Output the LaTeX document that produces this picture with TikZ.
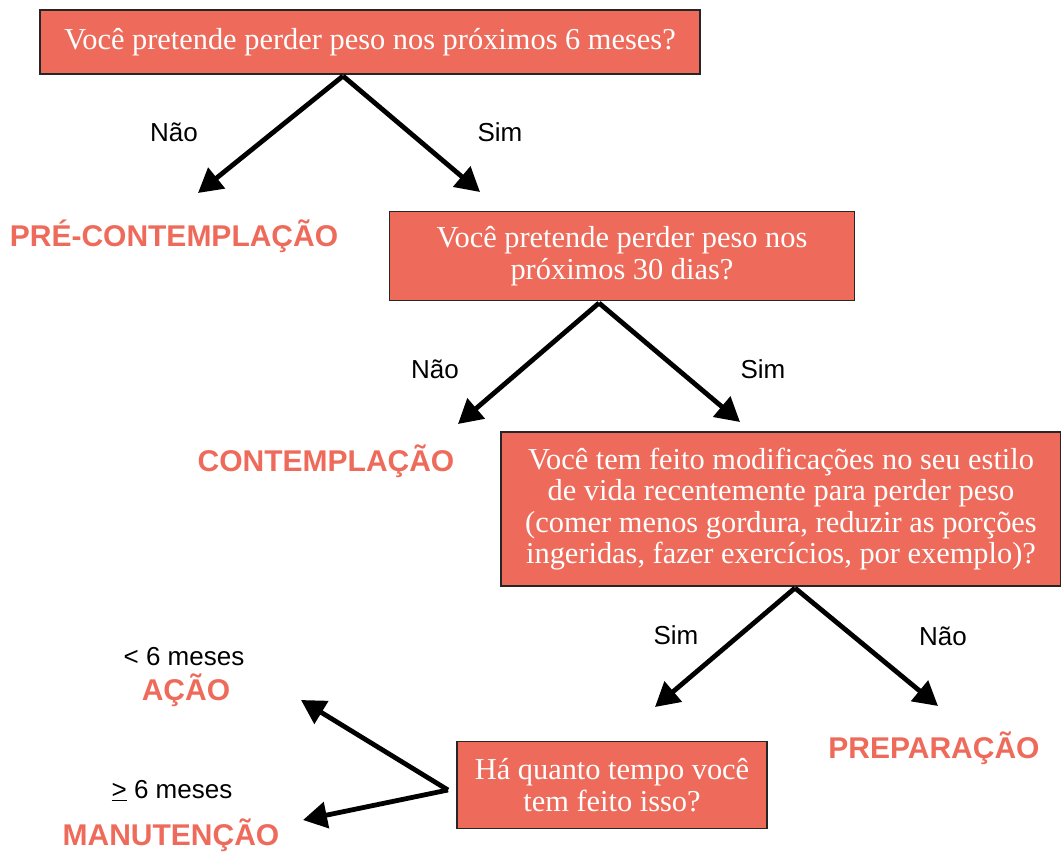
\documentclass[tikz,border=0pt]{standalone}
\usepackage{fontspec}
\setmainfont{Liberation Serif}
\setsansfont{Liberation Sans}
\usetikzlibrary{arrows.meta, positioning}
\definecolor{salmao}{HTML}{EE6B5B}

\begin{document}
\begin{tikzpicture}[x=0.5pt,y=-0.5pt,
caixa/.style={rectangle, draw=black!85, line width=0.6pt, fill=salmao, text=white, align=center, inner sep=0pt, font=\fontsize{15.2}{15.8}\selectfont},
estagio/.style={text=salmao, font=\sffamily\bfseries\fontsize{15}{16}\selectfont},
resp/.style={font=\sffamily\fontsize{13}{14}\selectfont},
seta/.style={line width=2.4pt, -{Triangle[length=12pt,width=13pt]}}] % caixa = the question boxes, estagio = the stage names
\useasboundingbox (0,0) rectangle (1061,852);

% questions
\node[caixa, minimum width=330pt, minimum height=32pt](q1) at (370,42){Você pretende perder peso nos próximos 6 meses?};
\node[caixa, minimum width=232.5pt, minimum height=44.5pt](q2) at (622,256){Você pretende perder peso nos\\próximos 30 dias?};
\node[caixa, minimum width=280pt, minimum height=77pt](q3) at (781,509){Você tem feito modificações no seu estilo\\de vida recentemente para perder peso\\(comer menos gordura, reduzir as porções\\ingeridas, fazer exercícios, por exemplo)?};
\node[caixa, minimum width=155pt, minimum height=43.5pt](q4) at (612,785){Há quanto tempo você\\tem feito isso?};

% stages
\node[estagio](pre) at (174,236){PRÉ-CONTEMPLAÇÃO};
\node[estagio](cont) at (326,461){CONTEMPLAÇÃO};
\node[estagio](prep) at (934,748){PREPARAÇÃO};
\node[estagio](acao) at (186,690){AÇÃO};
\node[resp](menos) at (184,657){< 6 meses};
\node[estagio](manu) at (171,835){MANUTENÇÃO};
\node[resp](mais) at (172,791){\underline{>} 6 meses};

% answers
\node[resp](n1) at (174,132){Não};
\node[resp](s1) at (500,132){Sim};
\node[resp](n2) at (435,369){Não};
\node[resp](s2) at (763,369){Sim};
\node[resp](s3) at (676,635){Sim};
\node[resp](n3) at (943,636){Não};

% where the arrows start and end
\coordinate (f1) at (343,76);
\coordinate (f2) at (599,303);
\coordinate (f3) at (795,588);
\coordinate (f4) at (448,790);
\coordinate (p1) at (198,193);
\coordinate (p2) at (480,192);
\coordinate (p3) at (458,424);
\coordinate (p4) at (740,422);
\coordinate (p5) at (655,707);
\coordinate (p6) at (938,706);
\coordinate (p7) at (301,700);
\coordinate (p8) at (303,820);

\draw[seta](f1)--(p1);
\draw[seta](f1)--(p2);
\draw[seta](f2)--(p3);
\draw[seta](f2)--(p4);
\draw[seta](f3)--(p5);
\draw[seta](f3)--(p6);
\draw[seta](f4)--(p7);
\draw[seta](f4)--(p8);

\end{tikzpicture}
\end{document}
